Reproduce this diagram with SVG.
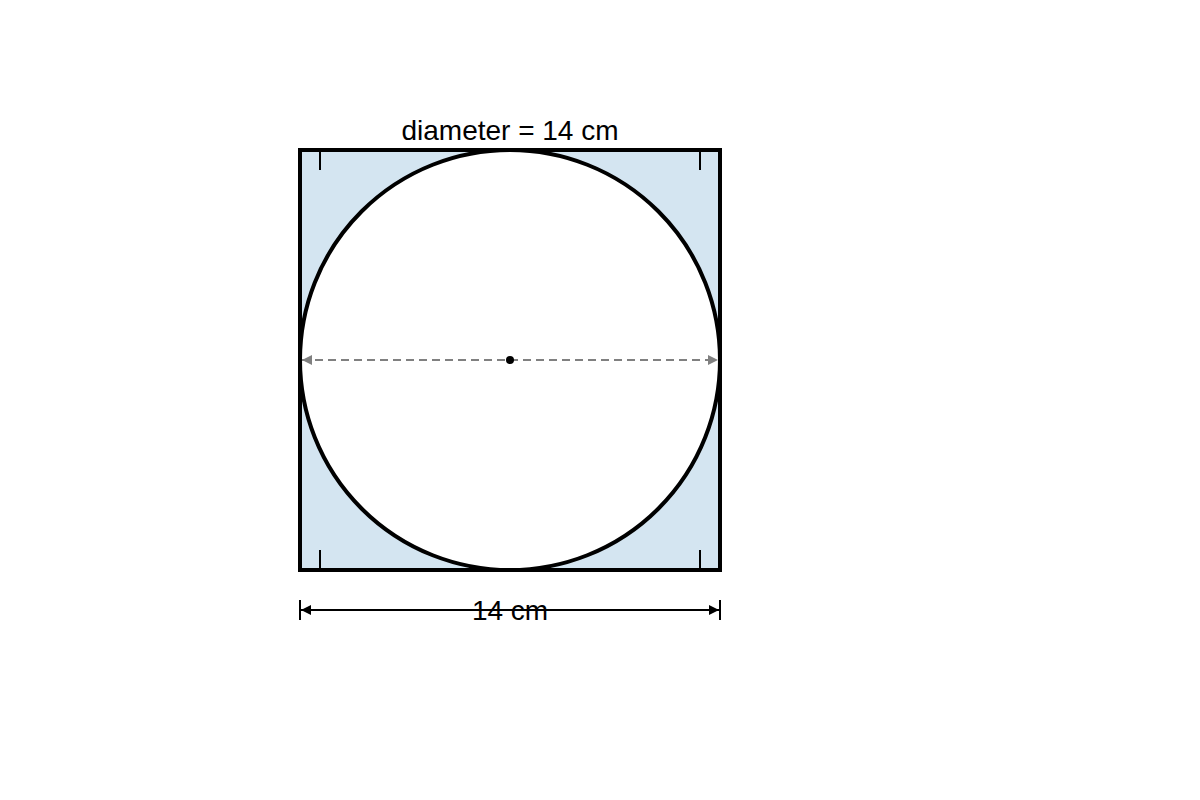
<svg xmlns="http://www.w3.org/2000/svg" width="1200" height="800" viewBox="0 0 1200 800">
<style>
text{font-family:"Liberation Sans",Arial,sans-serif;font-size:28px;fill:#000;text-anchor:middle}
.tick{stroke:#000;stroke-width:2}
</style>
<defs>
<marker id="ag" viewBox="0 0 10 10" refX="10" refY="5" markerWidth="5" markerHeight="5" orient="auto-start-reverse"><path d="M0,0L10,5L0,10z" fill="#808080"/></marker>
<marker id="ab" viewBox="0 0 10 10" refX="10" refY="5" markerWidth="5" markerHeight="5" orient="auto-start-reverse"><path d="M0,0L10,5L0,10z" fill="#000"/></marker>
</defs>
<rect width="1200" height="800" fill="#fff"/>
<g id="square">
<rect x="300" y="150" width="420" height="420" fill="#d4e5f1" stroke="#000" stroke-width="4"/>
</g>
<g id="circle">
<circle cx="510" cy="360" r="210" fill="#fff" stroke="#000" stroke-width="4"/>
</g>
<g id="ticks">
<line class="tick" x1="320" y1="150" x2="320" y2="170"/>
<line class="tick" x1="700" y1="150" x2="700" y2="170"/>
<line class="tick" x1="320" y1="550" x2="320" y2="570"/>
<line class="tick" x1="700" y1="550" x2="700" y2="570"/>
</g>
<g id="connectors">
<line x1="302" y1="360" x2="718" y2="360" stroke="#808080" stroke-width="2" stroke-dasharray="8,5" marker-start="url(#ag)" marker-end="url(#ag)"/>
<line x1="301" y1="610" x2="719" y2="610" stroke="#000" stroke-width="2" marker-start="url(#ab)" marker-end="url(#ab)"/>
<line class="tick" x1="300" y1="600" x2="300" y2="620"/>
<line class="tick" x1="720" y1="600" x2="720" y2="620"/>
</g>
<g id="center">
<circle cx="510" cy="360" r="4" fill="#000"/>
</g>
<g id="labels">
<text x="510" y="140">diameter = 14 cm</text>
<text x="510" y="620">14 cm</text>
</g>
</svg>
